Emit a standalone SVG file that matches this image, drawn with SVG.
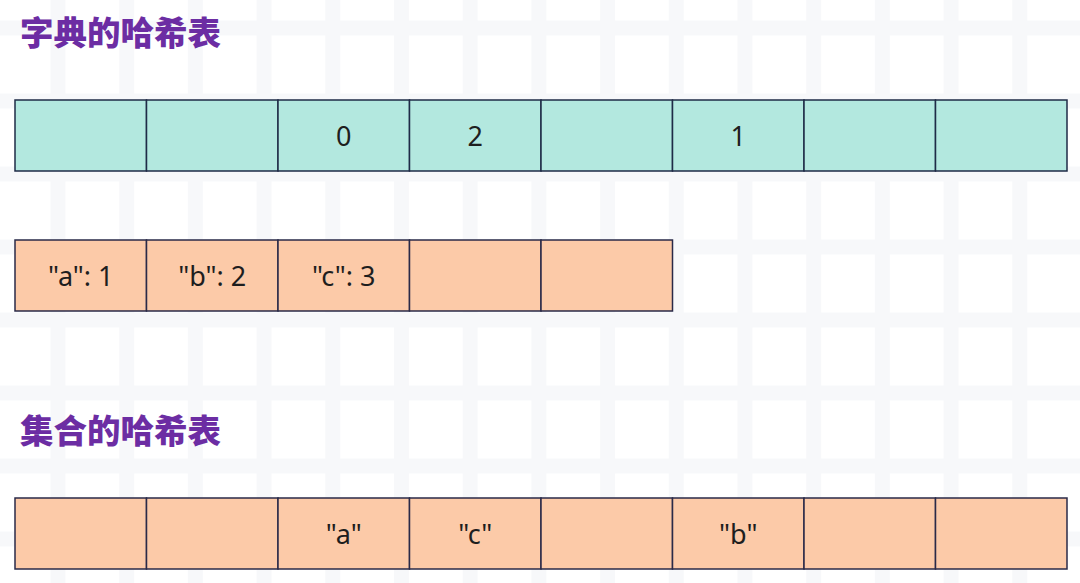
<svg xmlns="http://www.w3.org/2000/svg" width="1080" height="583" viewBox="0 0 1080 583">
  <defs>
    <pattern id="grid" patternUnits="userSpaceOnUse" x="50.5" y="20.5" width="68.7" height="73">
      <rect x="0" y="0" width="15" height="73" fill="#f7f8fa"/>
      <rect x="0" y="0" width="68.7" height="15" fill="#f7f8fa"/>
    </pattern>
  </defs>
  <style>
    .title { font-family: "Noto Sans CJK SC", "Noto Sans", sans-serif; font-weight: 900; font-size: 33.5px; fill: #6c2da3; }
    .teal { fill: #b3e8df; stroke: #1f2b47; stroke-width: 1.5; }
    .peach { fill: #fccaa8; stroke: #2a2a48; stroke-width: 1.5; }
    .lbl { font-family: "Noto Sans", "DejaVu Sans", sans-serif; font-size: 27px; fill: #1e1e1e; text-anchor: middle; }
  </style>
  <rect x="0" y="0" width="1080" height="583" fill="#ffffff"/>
  <rect x="0" y="0" width="1080" height="583" fill="url(#grid)"/>

  <g id="title-dict">
    <text class="title" x="20" y="45">字典的哈希表</text>
  </g>
  <g id="title-set">
    <text class="title" x="20" y="443">集合的哈希表</text>
  </g>

  <g id="dict-index">
    <rect class="teal" x="15" y="100" width="131.5" height="71"/>
    <rect class="teal" x="146.5" y="100" width="131.5" height="71"/>
    <rect class="teal" x="278" y="100" width="131.5" height="71"/>
    <rect class="teal" x="409.5" y="100" width="131.5" height="71"/>
    <rect class="teal" x="541" y="100" width="131.5" height="71"/>
    <rect class="teal" x="672.5" y="100" width="131.5" height="71"/>
    <rect class="teal" x="804" y="100" width="131.5" height="71"/>
    <rect class="teal" x="935.5" y="100" width="131.5" height="71"/>
    <text class="lbl" x="343.75" y="146">0</text>
    <text class="lbl" x="475.25" y="146">2</text>
    <text class="lbl" x="738.25" y="146">1</text>
  </g>

  <g id="dict-entries">
    <rect class="peach" x="15" y="240" width="131.5" height="71"/>
    <rect class="peach" x="146.5" y="240" width="131.5" height="71"/>
    <rect class="peach" x="278" y="240" width="131.5" height="71"/>
    <rect class="peach" x="409.5" y="240" width="131.5" height="71"/>
    <rect class="peach" x="541" y="240" width="131.5" height="71"/>
    <text class="lbl" x="80.75" y="286">"a": 1</text>
    <text class="lbl" x="212.25" y="286">"b": 2</text>
    <text class="lbl" x="343.75" y="286">"c": 3</text>
  </g>

  <g id="set-table">
    <rect class="peach" x="15" y="498" width="131.5" height="71"/>
    <rect class="peach" x="146.5" y="498" width="131.5" height="71"/>
    <rect class="peach" x="278" y="498" width="131.5" height="71"/>
    <rect class="peach" x="409.5" y="498" width="131.5" height="71"/>
    <rect class="peach" x="541" y="498" width="131.5" height="71"/>
    <rect class="peach" x="672.5" y="498" width="131.5" height="71"/>
    <rect class="peach" x="804" y="498" width="131.5" height="71"/>
    <rect class="peach" x="935.5" y="498" width="131.5" height="71"/>
    <text class="lbl" x="343.75" y="544">"a"</text>
    <text class="lbl" x="475.25" y="544">"c"</text>
    <text class="lbl" x="738.25" y="544">"b"</text>
  </g>

  <g id="connectors"></g>
</svg>
